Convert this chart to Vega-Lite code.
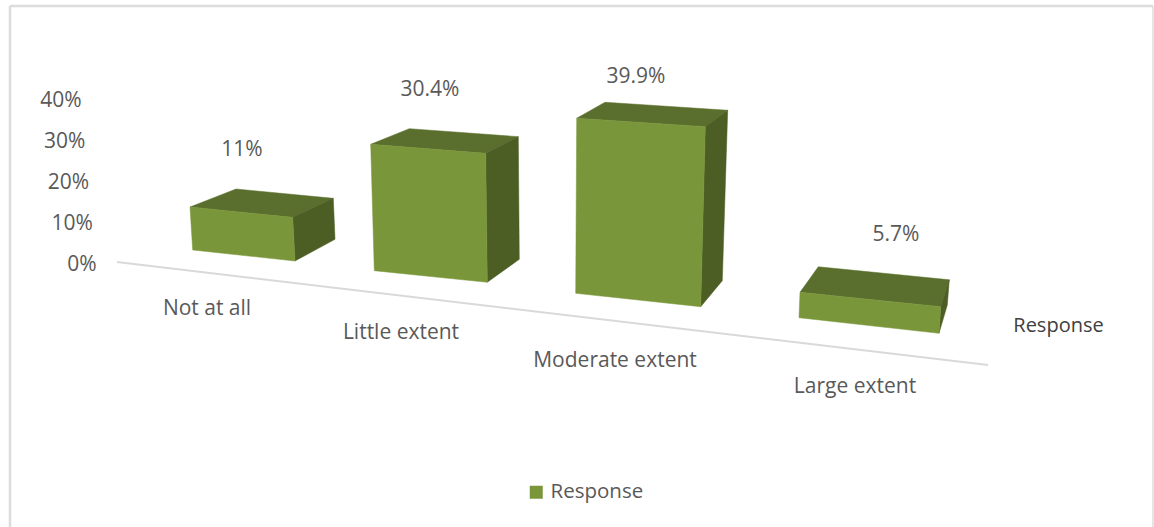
{
  "$schema": "https://vega.github.io/schema/vega-lite/v6.json",
  "width": 1154,
  "height": 527,
  "padding": 0,
  "autosize": {"type": "none"},
  "background": "white",
  "config": {
    "view": {"stroke": null},
    "font": "Open Sans",
    "text": {"font": "Open Sans", "fontSize": 21, "fill": "#595959"}
  },
  "datasets": {
    "responses": [
      {"category": "Not at all", "series": "Response", "value": 11},
      {"category": "Little extent", "series": "Response", "value": 30.4},
      {"category": "Moderate extent", "series": "Response", "value": 39.9},
      {"category": "Large extent", "series": "Response", "value": 5.7}
    ]
  },
  "resolve": {"axis": {"x": "independent", "y": "independent"}},
  "layer": [
    {
      "data": {"values": [{}]},
      "mark": {"type": "rule", "stroke": "#dcdcdc", "strokeWidth": 2.5},
      "encoding": {
        "x": {"datum": 10, "type": "quantitative", "scale": {"domain": [0, 1154], "nice": false, "zero": false},
          "axis": {"title": "Response", "labels": false, "ticks": false, "domain": false, "grid": false, "titleX": 1058, "titleY": -202, "titleFont": "Open Sans", "titleFontSize": 20, "titleFontWeight": "normal", "titleColor": "#404040", "titleAlign": "center", "titleBaseline": "middle", "titleAnchor": null}},
        "y": {"datum": 62.68, "type": "quantitative", "scale": {"domain": [-64.39, 64.15], "nice": false, "zero": false},
          "axis": {"title": null, "values": [0, 10, 20, 30, 40], "format": ".0f", "labelExpr": "datum.label + '%'", "offset": -100, "ticks": false, "domain": false, "grid": false, "labelFont": "Open Sans", "labelFontSize": 21, "labelColor": "#595959", "labelOffset": 1, "labelPadding": {"expr": "4 + datum.value * 0.375"}}},
        "y2": {"datum": -64.39}
      }
    },
    {
      "data": {"values": [{}]},
      "mark": {"type": "rule", "stroke": "#dcdcdc", "strokeWidth": 1.5},
      "encoding": {
        "x": {"datum": 1153, "type": "quantitative", "axis": null},
        "y": {"datum": 62.68, "type": "quantitative", "axis": null},
        "y2": {"datum": -64.39}
      }
    },
    {
      "data": {"values": [{}]},
      "mark": {"type": "rule", "stroke": "#dcdcdc", "strokeWidth": 2.5},
      "encoding": {
        "x": {"datum": 10, "type": "quantitative", "axis": null},
        "x2": {"datum": 1153},
        "y": {"datum": 62.68, "type": "quantitative", "axis": null}
      }
    },
    {
      "data": {"values": [{}]},
      "mark": {"type": "rule", "stroke": "#d9d9d9", "strokeWidth": 2},
      "encoding": {
        "x": {"datum": 117, "type": "quantitative", "axis": null},
        "x2": {"datum": 988},
        "y": {"datum": 0.24, "type": "quantitative", "axis": null},
        "y2": {"datum": -24.88}
      }
    },
    {
      "data": {"name": "responses"},
      "resolve": {"axis": {"x": "independent", "y": "independent"}},
      "transform": [
        {"calculate": "{'Not at all': {x: [192.7, 295, 335, 190, 292.7, 333.3, 236], b: [250, 261, 239.3], k: [0.953, 0.969, 0.909], d: 9.3, cx: 207, cy: 309, lx: 242, lo: 39}, 'Little extent': {x: [374.3, 487.3, 519.3, 370.7, 485.7, 518.3, 409.3], b: [270.7, 282.3, 259.3], k: [1.014, 1.035, 0.984], d: 8, cx: 401, cy: 333, lx: 430, lo: 39}, 'Moderate extent': {x: [575.7, 700.7, 722.3, 576.7, 705.3, 727.7, 605], b: [293.3, 306.7, 280.7], k: [1.07, 1.1, 1.042], d: 8, cx: 615, cy: 361, lx: 636, lo: 25}, 'Large extent': {x: [799, 939, 947.3, 800, 940.7, 949.3, 818.3], b: [317.7, 333.3, 305], k: [1.087, 1.138, 1.08], d: 13, cx: 855, cy: 387, lx: 896, lo: 32}}[datum.category]", "as": "g"},
        {"calculate": "[(263 - datum.g.b[0]) / 4.1, (263 - datum.g.b[1]) / 4.1, (263 - datum.g.b[2]) / 4.1, (263 - datum.g.b[0]) / 4.1 + datum.value * datum.g.k[0], (263 - datum.g.b[1]) / 4.1 + datum.value * datum.g.k[1], (263 - datum.g.b[2]) / 4.1 + datum.value * datum.g.k[2], (263 - datum.g.b[2] + datum.g.d) / 4.1 + datum.value * datum.g.k[2]]", "as": "ys"},
        {"calculate": "format(datum.value, '.3~r') + '%'", "as": "valueLabel"}
      ],
      "layer": [
        {
          "transform": [
            {"calculate": "[3, 4, 5, 6]", "as": "corner"},
            {"calculate": "[0, 1, 2, 3]", "as": "step"},
            {"flatten": ["corner", "step"]},
            {"calculate": "datum.g.x[datum.corner]", "as": "px"},
            {"calculate": "datum.ys[datum.corner]", "as": "py"}
          ],
          "mark": {"type": "line", "interpolate": "linear-closed", "fill": "#5a6f2d", "stroke": "#5a6f2d", "strokeWidth": 0.5},
          "encoding": {
            "x": {"field": "px", "type": "quantitative", "axis": null},
            "y": {"field": "py", "type": "quantitative", "axis": null},
            "order": {"field": "step"},
            "detail": {"field": "category"}
          }
        },
        {
          "transform": [
            {"calculate": "[1, 2, 5, 4]", "as": "corner"},
            {"calculate": "[0, 1, 2, 3]", "as": "step"},
            {"flatten": ["corner", "step"]},
            {"calculate": "datum.g.x[datum.corner]", "as": "px"},
            {"calculate": "datum.ys[datum.corner]", "as": "py"}
          ],
          "mark": {"type": "line", "interpolate": "linear-closed", "fill": "#4c5e24", "stroke": "#4c5e24", "strokeWidth": 0.5},
          "encoding": {
            "x": {"field": "px", "type": "quantitative", "axis": null},
            "y": {"field": "py", "type": "quantitative", "axis": null},
            "order": {"field": "step"},
            "detail": {"field": "category"}
          }
        },
        {
          "transform": [
            {"calculate": "[0, 1, 4, 3]", "as": "corner"},
            {"calculate": "[0, 1, 2, 3]", "as": "step"},
            {"flatten": ["corner", "step"]},
            {"calculate": "datum.g.x[datum.corner]", "as": "px"},
            {"calculate": "datum.ys[datum.corner]", "as": "py"}
          ],
          "mark": {"type": "line", "interpolate": "linear-closed", "stroke": "#7a963b", "strokeWidth": 0.5},
          "encoding": {
            "x": {"field": "px", "type": "quantitative", "axis": null},
            "y": {"field": "py", "type": "quantitative", "axis": null},
            "order": {"field": "step"},
            "detail": {"field": "category"},
            "fill": {
              "field": "series",
              "type": "nominal",
              "scale": {"range": ["#7a963b"]},
              "legend": {"title": null, "orient": "none", "legendX": 526, "legendY": 482, "symbolType": "square", "symbolSize": 169, "symbolStrokeWidth": 0, "labelFont": "Open Sans", "labelFontSize": 20.5, "labelColor": "#595959", "labelOffset": 4}
            }
          }
        },
        {
          "transform": [
            {"calculate": "datum.g.cx", "as": "px"},
            {"calculate": "(263 - datum.g.cy) / 4.1", "as": "py"}
          ],
          "mark": {"type": "text", "align": "center", "baseline": "middle"},
          "encoding": {
            "x": {"field": "px", "type": "quantitative", "axis": null},
            "y": {"field": "py", "type": "quantitative", "axis": null},
            "text": {"field": "category"}
          }
        },
        {
          "transform": [
            {"calculate": "datum.g.lx", "as": "px"},
            {"calculate": "datum.ys[6] + datum.g.lo / 4.1", "as": "py"}
          ],
          "mark": {"type": "text", "align": "center", "baseline": "middle"},
          "encoding": {
            "x": {"field": "px", "type": "quantitative", "axis": null},
            "y": {"field": "py", "type": "quantitative", "axis": null},
            "text": {"field": "valueLabel"}
          }
        }
      ]
    }
  ]
}
